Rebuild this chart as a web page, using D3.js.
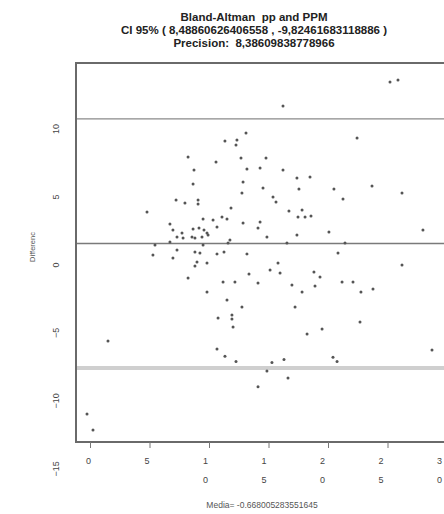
<!DOCTYPE html>
<html>
<head>
    <meta charset="utf-8">
    <title>Bland-Altman pp and PPM</title>
    <script src="https://d3js.org/d3.v7.min.js"></script>
    <style>
        body { margin: 0; background: #fff; }
        svg { font-family: "Liberation Sans", Arial, sans-serif; }
    </style>
</head>
<body>
    <svg id="chart" width="444" height="514"></svg>

    <script>
        // averages (x) and differences (y)
        const meanVals = [
            13.11, 11.34, 12.35, 12.27, 8.24, 10.59, 12.69, 8.74, 13.19, 8.66,
            12.86, 12.77, 7.23, 7.98, 9.08, 9.08, 4.79, 11.85, 9.50, 10.34,
            11.09, 11.51, 10.67, 12.86, 6.72, 6.97, 8.66, 9.16, 9.58, 9.83,
            7.73, 7.31, 7.82, 8.57, 8.82, 9.41, 9.92, 11.76, 14.12,
            5.46, 6.72, 9.50, 11.60, 5.29, 7.31, 6.97, 8.82, 9.24, 8.99,
            8.82, 9.83, 10.67, 11.26, 13.19, 8.24, 13.36, 14.12, 11.18, 12.18,
            9.83, 11.51, 12.77, 10.76, 11.93, 11.93, 12.02, 10.67, 11.34, 12.27,
            14.12, 1.51, -0.25, 0.25,
            25.88, 25.21, 16.22, 22.44, 14.79, 14.29, 16.22, 17.39, 18.49, 14.54,
            17.56, 20.50, 23.70, 26.22, 21.26, 15.38, 15.63, 16.72, 17.82, 17.48,
            18.07, 18.57, 14.29, 20.08, 14.87, 17.39, 27.98, 16.55, 21.43,
            20.84, 26.22, 15.80, 15.13, 15.97, 18.82, 19.33, 16.97, 17.82, 18.91,
            21.18, 22.10, 22.77, 23.78, 17.23, 22.69, 18.24, 19.50, 28.74, 20.42,
            20.76, 15.29, 16.30, 14.87, 16.64
        ];
        const diffVals = [
            7.46, 6.87, 6.94, 6.57, 5.69, 5.32, 5.62, 4.74, 4.81, 3.71,
            3.85, 3.04, 2.53, 2.31, 2.53, 2.24, 1.65, 1.94, 1.13, 1.06,
            1.28, 1.13, 0.54, 0.84, 0.76, 0.32, 0.40, 0.47, 0.32, 0.10,
            0.10, -0.19, -0.26, -0.19, -0.26, -0.19, -0.04, -0.41, 0.47,
            -0.78, -0.56, -0.78, -0.63, -1.51, -1.15, -1.74, -1.29, -1.37, -2.03,
            -2.32, -2.10, -1.44, -1.29, -1.44, -3.21, -2.91, -3.57, -3.50, -3.50,
            -4.24, -4.82, -5.34, -6.15, -5.93, -6.22, -6.81, -8.43, -8.96, -9.34,
            -11.21, -7.84, -13.21, -14.38,
            11.35, 11.21, 9.44, 7.09, 5.62, 4.88, 4.74, 4.15, 4.22, 3.41,
            3.34, 3.34, 3.56, 3.04, 2.60, 2.75, 2.38, 1.72, 1.79, 1.28,
            1.28, 1.35, 0.91, 0.18, -0.19, -0.04, 0.32, -0.63, -0.63,
            -1.37, -2.25, -2.10, -2.62, -2.84, -2.76, -3.13, -3.72, -4.24, -3.79,
            -3.50, -3.50, -4.24, -4.01, -5.34, -6.44, -7.32, -6.96, -8.50, -9.04,
            -9.34, -9.41, -9.19, -10.04, -10.55
        ];

        const meanDiff = -0.668005283551645;
        const upperLimit = 8.48860626406558;
        const lowerLimit = -9.82461683118886;

        const xTicks = [0, 5, 10, 15, 20, 25, 30];
        const yTicks = [10, 5, 0, -5, -10, -15];

        const titleLines = [
            "Bland-Altman  pp and PPM",
            "CI 95% ( 8,48860626406558 , -9,82461683118886 )",
            "Precision:  8,38609838778966"
        ];
        const xLabel = "Media= -0.668005283551645";
        const yLabel = "Differenc";

        const svg = d3.select("#chart");
        const box = { left: 76, top: 63, right: 470, bottom: 442 };

        const x = d3.scaleLinear().domain([0, 30]).range([90, 447]);
        const y = d3.scaleLinear().domain([-15, 10]).range([438.4, 98.4]);

        const points = meanVals.map((m, i) => ({ m: m, d: diffVals[i] }));

        // title
        svg.selectAll(".title")
            .data(titleLines)
            .join("text")
            .attr("class", "title")
            .attr("x", 254)
            .attr("y", (d, i) => 21 + i * 13)
            .attr("text-anchor", "middle")
            .style("font-size", "11.5px")
            .style("font-weight", "bold")
            .style("white-space", "pre")
            .style("fill", "#222")
            .text(d => d);

        // reference lines
        svg.append("line")
            .attr("x1", box.left).attr("x2", box.right)
            .attr("y1", y(lowerLimit)).attr("y2", y(lowerLimit))
            .style("stroke", "#cfcfcf")
            .style("stroke-width", 4);

        svg.append("line")
            .attr("x1", box.left).attr("x2", box.right)
            .attr("y1", y(upperLimit)).attr("y2", y(upperLimit))
            .style("stroke", "#8a8a8a")
            .style("stroke-width", 1.3);

        svg.append("line")
            .attr("x1", box.left).attr("x2", box.right)
            .attr("y1", y(meanDiff)).attr("y2", y(meanDiff))
            .style("stroke", "#7a7a7a")
            .style("stroke-width", 1.3);

        // points
        svg.selectAll(".pt")
            .data(points)
            .join("circle")
            .attr("class", "pt")
            .attr("cx", d => x(d.m))
            .attr("cy", d => y(d.d))
            .attr("r", 1.5)
            .style("fill", "#555");

        // frame
        svg.append("rect")
            .attr("x", box.left)
            .attr("y", box.top)
            .attr("width", box.right - box.left)
            .attr("height", box.bottom - box.top)
            .style("fill", "none")
            .style("stroke", "#6a6a6a")
            .style("stroke-width", 2);

        // x axis, labels broken one digit per line as in the original
        const xAxis = svg.append("g")
            .attr("transform", "translate(0," + box.bottom + ")")
            .call(d3.axisBottom(x).tickValues(xTicks).tickSize(6).tickFormat(d => d));
        xAxis.select(".domain").remove();
        xAxis.selectAll("line").style("stroke", "#777");
        xAxis.selectAll("text").each(function(d) {
            const t = d3.select(this);
            const s = String(d);
            const shift = -(2 + d * 0.2);
            t.text(null)
                .attr("y", 16)
                .style("font-size", "9px")
                .style("fill", "#444");
            for (let k = 0; k < s.length; k++) {
                t.append("tspan")
                    .attr("x", shift)
                    .attr("dy", k === 0 ? "0.71em" : "19")
                    .text(s[k]);
            }
        });

        // y axis labels, rotated like R's default
        const yAxis = svg.append("g")
            .attr("transform", "translate(" + box.left + ",0)")
            .call(d3.axisLeft(y).tickValues(yTicks).tickSize(0).tickPadding(0));
        yAxis.select(".domain").remove();
        yAxis.selectAll(".tick text")
            .attr("x", null)
            .attr("dy", null)
            .attr("text-anchor", "middle")
            .attr("transform", "translate(-17,30) rotate(-90)")
            .style("font-size", "9px")
            .style("fill", "#444");

        svg.append("text")
            .attr("transform", "translate(35,247) rotate(-90)")
            .attr("text-anchor", "middle")
            .style("font-size", "7.5px")
            .style("fill", "#555")
            .text(yLabel);

        svg.append("text")
            .attr("x", 262)
            .attr("y", 508)
            .attr("text-anchor", "middle")
            .style("font-size", "8.5px")
            .style("fill", "#555")
            .text(xLabel);
    </script>
</body>
</html>
